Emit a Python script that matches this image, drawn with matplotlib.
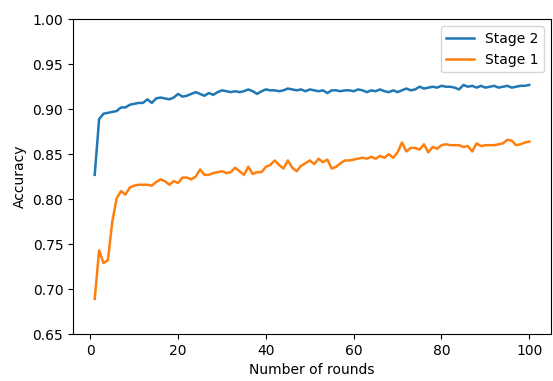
import matplotlib
matplotlib.use("Agg")
import matplotlib.pyplot as plt
import numpy as np

rounds = np.arange(1, 101)

stage2 = [0.827, 0.889, 0.895, 0.896, 0.897, 0.898, 0.902, 0.902, 0.905, 0.906,
          0.907, 0.907, 0.911, 0.907, 0.912, 0.913, 0.912, 0.911, 0.913, 0.917,
          0.914, 0.915, 0.917, 0.919, 0.917, 0.915, 0.918, 0.916, 0.919, 0.921,
          0.920, 0.919, 0.920, 0.919, 0.920, 0.922, 0.920, 0.917, 0.920, 0.922,
          0.921, 0.921, 0.920, 0.921, 0.923, 0.922, 0.921, 0.922, 0.920, 0.922,
          0.921, 0.920, 0.921, 0.918, 0.921, 0.921, 0.920, 0.921, 0.921, 0.920,
          0.922, 0.921, 0.919, 0.921, 0.920, 0.922, 0.920, 0.919, 0.921, 0.919,
          0.921, 0.923, 0.921, 0.922, 0.925, 0.923, 0.924, 0.925, 0.924, 0.926,
          0.925, 0.925, 0.924, 0.922, 0.927, 0.925, 0.926, 0.924, 0.926, 0.924,
          0.925, 0.926, 0.924, 0.925, 0.926, 0.924, 0.925, 0.926, 0.926, 0.927]

stage1 = [0.689, 0.743, 0.729, 0.732, 0.775, 0.801, 0.809, 0.805, 0.813, 0.815,
          0.816, 0.816, 0.816, 0.815, 0.819, 0.822, 0.820, 0.816, 0.820, 0.818,
          0.824, 0.824, 0.822, 0.825, 0.833, 0.827, 0.827, 0.829, 0.830, 0.831,
          0.829, 0.830, 0.835, 0.831, 0.827, 0.836, 0.828, 0.830, 0.830, 0.836,
          0.838, 0.843, 0.838, 0.834, 0.843, 0.835, 0.831, 0.837, 0.840, 0.843,
          0.839, 0.845, 0.841, 0.844, 0.834, 0.836, 0.840, 0.843, 0.843, 0.844,
          0.845, 0.846, 0.845, 0.847, 0.845, 0.848, 0.846, 0.850, 0.846, 0.852,
          0.863, 0.853, 0.857, 0.857, 0.855, 0.861, 0.852, 0.858, 0.856, 0.860,
          0.861, 0.860, 0.860, 0.860, 0.858, 0.859, 0.853, 0.862, 0.859, 0.860,
          0.860, 0.860, 0.861, 0.862, 0.866, 0.865, 0.860, 0.861, 0.863, 0.864]

fig = plt.figure(figsize=(5.53, 3.81), dpi=100)
ax = fig.add_axes([73/553, 47/381, 478/553, 314.7/381])

ax.plot(rounds, stage2, color="#1f77b4", linewidth=1.8, label="Stage 2")
ax.plot(rounds, stage1, color="#ff7f0e", linewidth=1.8, label="Stage 1")

ax.set_ylim(0.65, 1.00)
ax.set_yticks(np.arange(0.65, 1.001, 0.05))
ax.set_xticks([0, 20, 40, 60, 80, 100])
ax.set_xlabel("Number of rounds")
ax.set_ylabel("Accuracy")
ax.legend(loc="upper right")

fig.savefig("out.png", dpi=100)
